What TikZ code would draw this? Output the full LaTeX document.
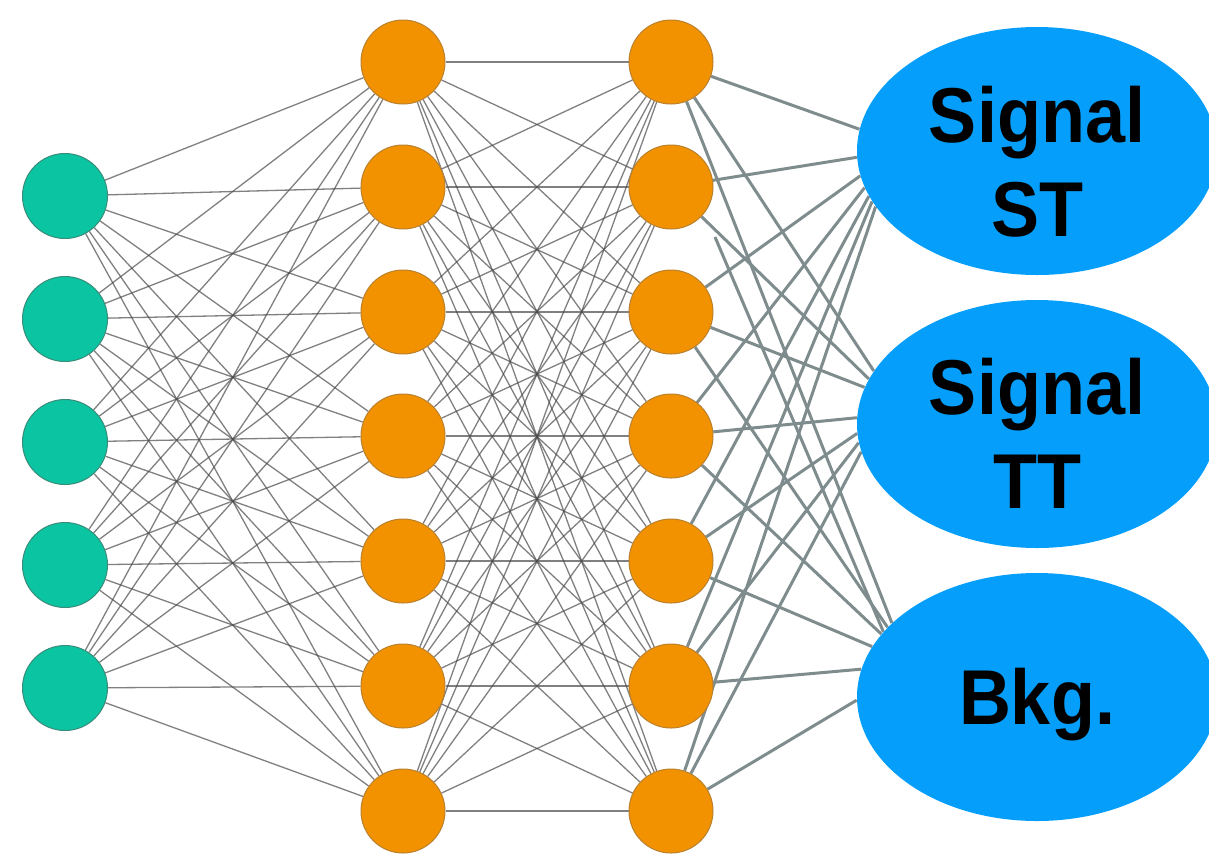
\documentclass[tikz,border=0pt]{standalone}
\usepackage{fontspec}
\setmainfont{Liberation Sans}
\usetikzlibrary{shapes.geometric,backgrounds}
\definecolor{ingreen}{HTML}{0BC5A2}
\definecolor{ingreenborder}{HTML}{3A8C7A}
\definecolor{hidorange}{HTML}{F39200}
\definecolor{hidorangeborder}{HTML}{B9802E}
\definecolor{outblue}{HTML}{069EFB}
\definecolor{linkgray}{HTML}{4A4A4A}
\definecolor{outlinkgray}{HTML}{7F8C8D}
\newcommand{\tallword}[1]{\scalebox{1}[1.08]{#1}}
\begin{document}
\begin{tikzpicture}[x=0.5pt,y=-0.5pt,
  inneuron/.style={circle, fill=ingreen, draw=ingreenborder, line width=0.5pt, minimum size=42.5pt, inner sep=0pt},
  hidneuron/.style={circle, fill=hidorange, draw=hidorangeborder, line width=0.5pt, minimum size=42pt, inner sep=0pt},
  outnode/.style={ellipse, fill=outblue, minimum width=180pt, minimum height=124pt, inner sep=0pt},
  thinlink/.style={draw=linkgray, line width=0.65pt, opacity=0.7},
  thicklink/.style={draw=outlinkgray, line width=1.5pt},
  outtext/.style={font=\fontsize{36}{47}\selectfont\bfseries, align=center, text=black, inner sep=0pt}]
\useasboundingbox (0,0) rectangle (1209,858);

% input layer
\foreach \i/\y in {1/196,2/319,3/442,4/565,5/688}
  \node[inneuron] (in\i) at (65,\y) {};
% hidden layers
\foreach \i/\y in {1/62,2/187,3/312,4/436,5/561,6/686,7/811}{
  \node[hidneuron] (ha\i) at (403,\y) {};
  \node[hidneuron] (hb\i) at (671,\y) {};
}
% outputs
\node[outnode, label={[outtext, yshift=-5.5pt]center:\tallword{Signal}\\\tallword{ST}}] (st) at (1037,151) {};
\node[outnode, label={[outtext, yshift=-4.5pt]center:\tallword{Signal}\\\tallword{TT}}] (tt) at (1037,424) {};
\node[outnode, label={[outtext, yshift=-4pt]center:\tallword{Bkg.}}] (bkg) at (1037,697) {};

\coordinate (straystart) at (715,237);

\begin{scope}[on background layer]
  \foreach \i in {1,...,5}
    \foreach \j in {1,...,7}
      \draw[thinlink] (in\i) -- (ha\j);
  \foreach \i in {1,...,7}
    \foreach \j in {1,...,7}
      \draw[thinlink] (ha\i) -- (hb\j);
  % to Signal ST
  \foreach \i/\a in {1/173,2/182,3/188,4/192,5/195,6/197,7/199}
    \draw[thicklink] (hb\i) -- (st.\a);
  % to Signal TT
  \foreach \i/\a in {1/162,2/165,3/168,4/178,5/183,6/186,7/189}
    \draw[thicklink] (hb\i) -- (tt.\a);
  % to Bkg.
  \foreach \i/\a in {1/153,3/155,4/158,5/163,6/171,7/181}
    \draw[thicklink] (hb\i) -- (bkg.\a);
  \draw[thicklink] (straystart) -- (bkg.157);
\end{scope}
\end{tikzpicture}
\end{document}
